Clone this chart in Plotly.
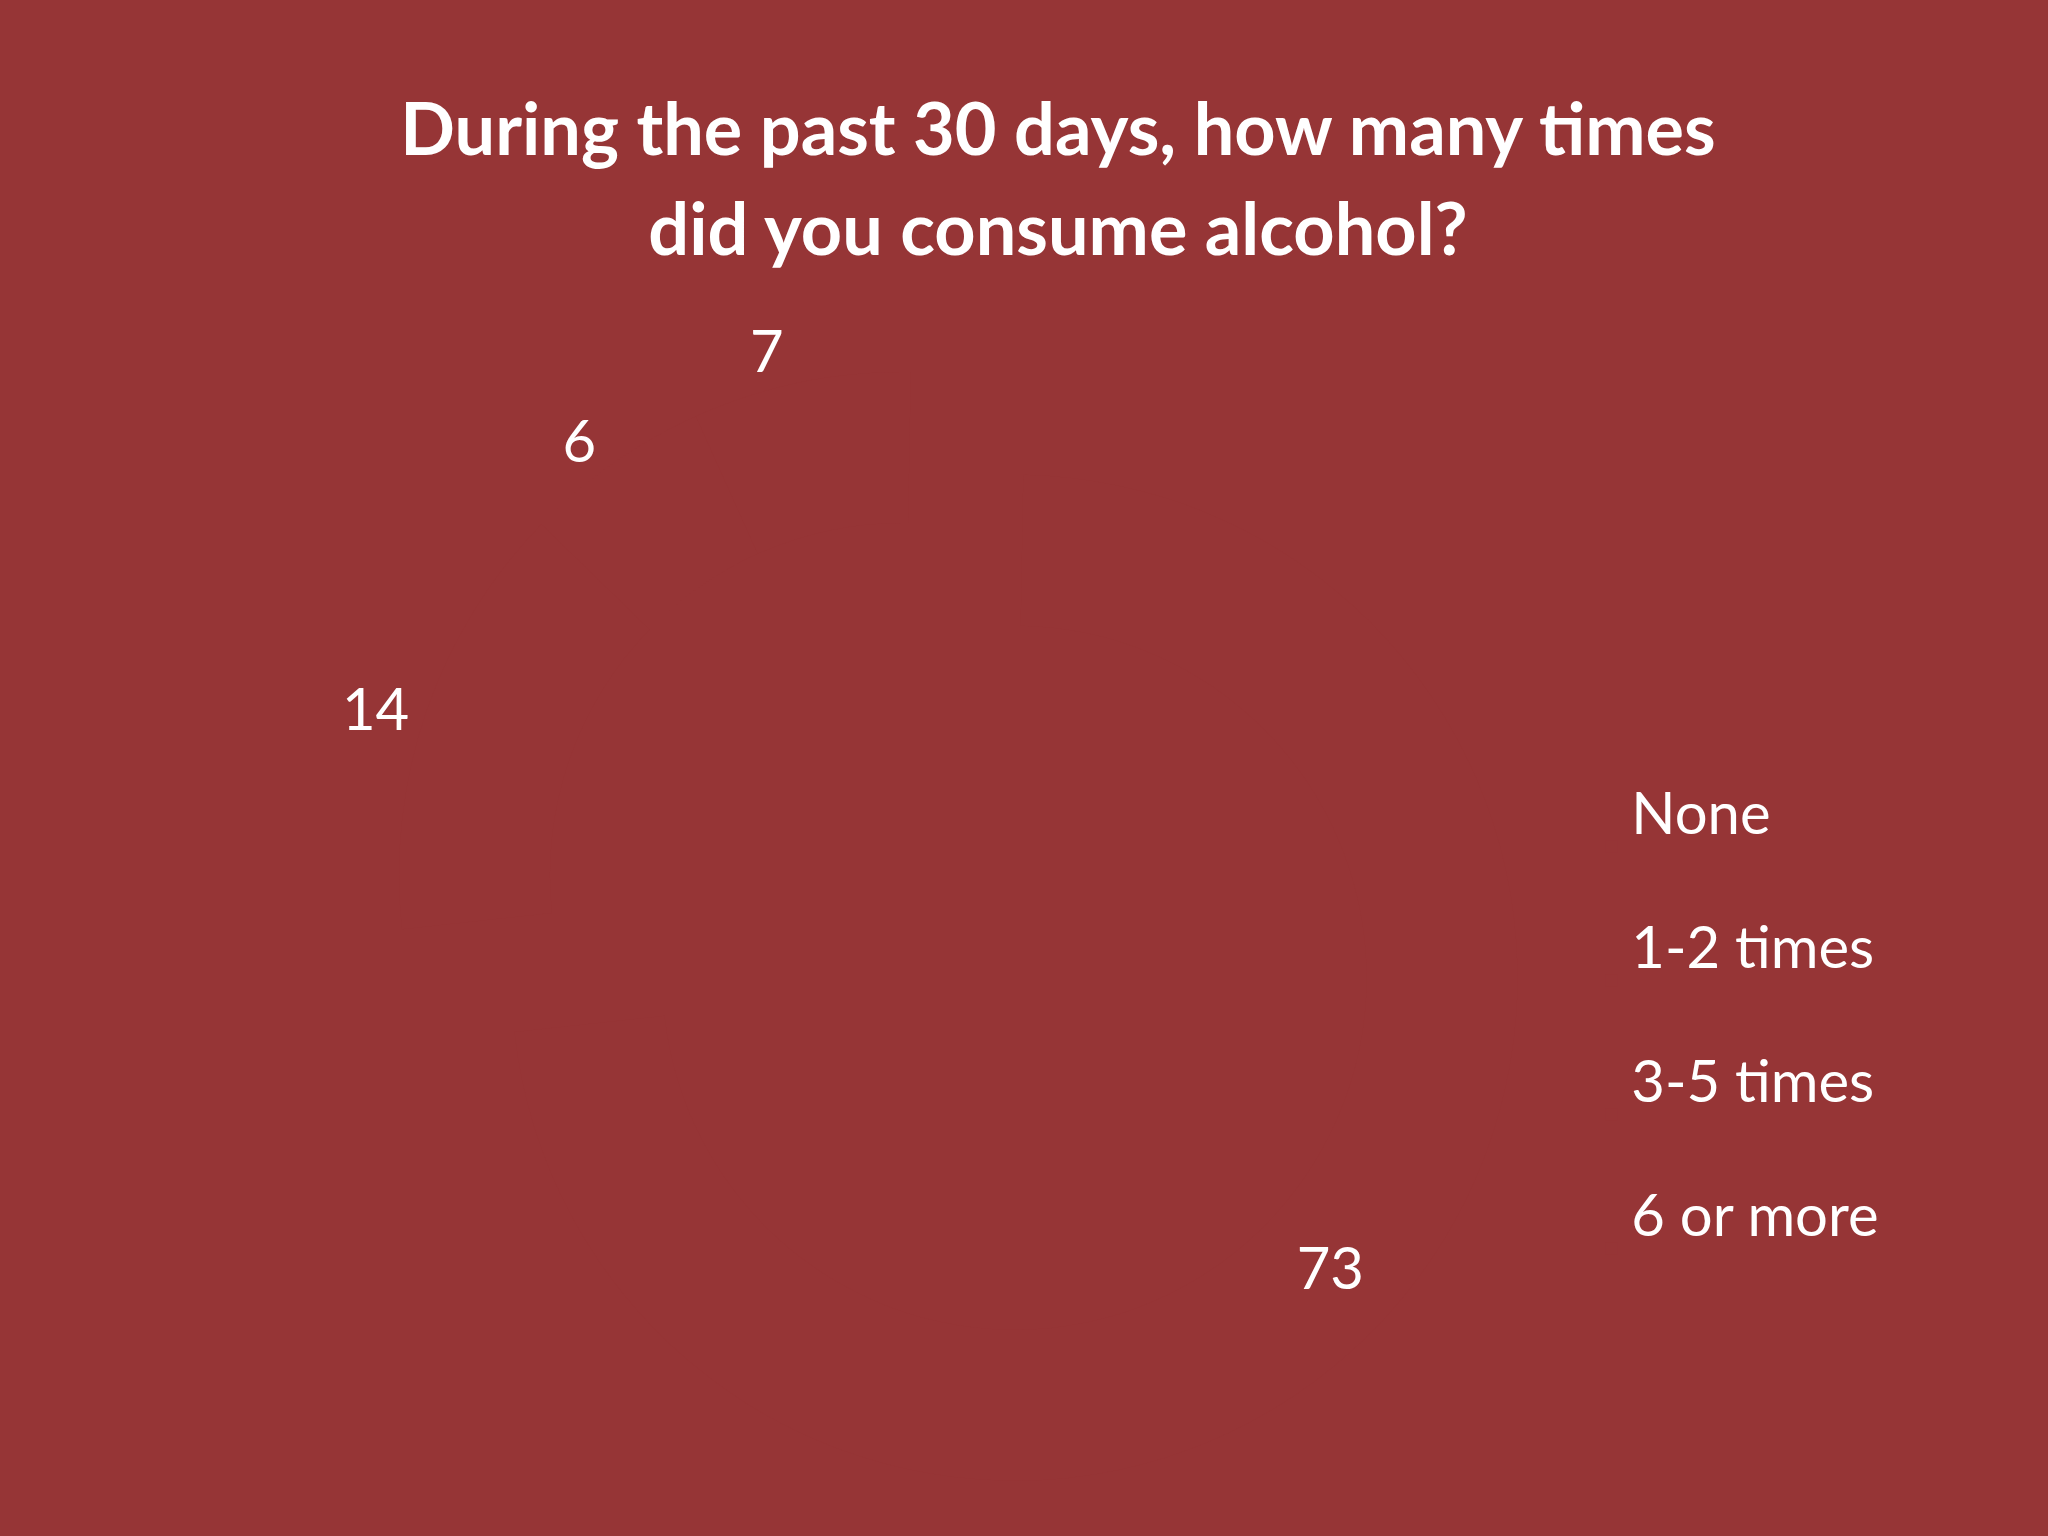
import plotly.graph_objects as go

# ---- data ----
categories = ["None", "1-2 times", "3-5 times", "6 or more"]
values = [73, 14, 6, 7]
title_lines = ["During the past 30 days, how many times", "did you consume alcohol?"]

BG = "rgb(150,53,54)"
FONT = "Lato"

legend_labels = [f"<span style='font-size:58px'>{c}</span><br> " for c in categories]

fig = go.Figure(
    go.Pie(
        labels=legend_labels,
        values=values,
        sort=False,
        direction="clockwise",
        rotation=1,
        hole=0.7,
        pull=[0.303, 0, 0, 0],
        marker=dict(colors=[BG] * len(values), line=dict(width=0, color=BG)),
        textinfo="value",
        textposition=["inside", "outside", "outside", "outside"],
        insidetextorientation="horizontal",
        textfont=dict(family=FONT, size=58, color="white"),
        insidetextfont=dict(family=FONT, size=58, color="white"),
        outsidetextfont=dict(family=FONT, size=58, color="white"),
        hoverinfo="none",
        automargin=False,
        domain=dict(x=[0.12041, 0.76045], y=[0.00365, 0.85703]),
    )
)

title_text = "<br>".join(f"<span style='font-size:72px'><b>{t}</b></span>" for t in title_lines)

fig.update_layout(
    width=2048,
    height=1536,
    margin=dict(l=0, r=0, t=0, b=0, pad=0, autoexpand=False),
    paper_bgcolor=BG,
    plot_bgcolor=BG,
    font=dict(family=FONT, color="white"),
    title=dict(
        text=title_text,
        x=0.5166,
        xanchor="center",
        y=0.899,
        yanchor="top",
        yref="paper",
        automargin=False,
        font=dict(family=FONT, size=77, color="white"),
    ),
    showlegend=True,
    legend=dict(
        x=0.777,
        xanchor="left",
        y=0.4957,
        yanchor="top",
        bgcolor="rgba(0,0,0,0)",
        font=dict(family=FONT, size=50.4, color="white"),
    ),
)

fig.write_html(
    "out.html",
    config={"displayModeBar": False},
    post_script="document.body.style.margin='0';",
)
